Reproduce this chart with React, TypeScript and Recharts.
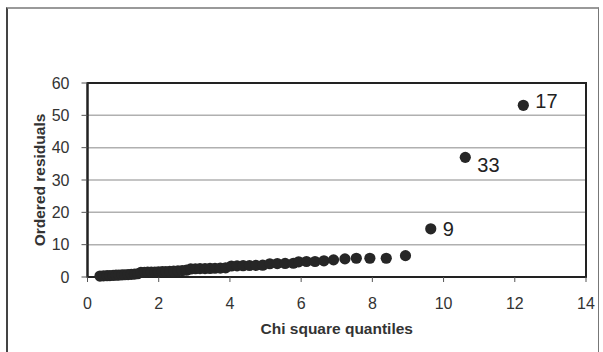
import React from 'react';
import {
  ScatterChart, Scatter, XAxis, YAxis, CartesianGrid, ReferenceArea, LabelList, Label,
} from 'recharts';

const chiQuantiles = [
  0.35, 0.45, 0.55, 0.63, 0.72, 0.80, 0.88, 0.97, 1.05, 1.14, 1.23, 1.32, 1.41,
  1.50, 1.60, 1.69, 1.79, 1.89, 1.99, 2.10, 2.20, 2.31, 2.42, 2.54, 2.66, 2.78,
  2.90, 3.03, 3.16, 3.30, 3.44, 3.58, 3.73, 3.88,
  4.04, 4.20, 4.37, 4.55, 4.73, 4.92,
  5.12, 5.33, 5.55, 5.78,
  5.93, 6.15, 6.39, 6.64, 6.91, 7.23, 7.55, 7.93, 8.39, 8.93, 9.64, 10.61, 12.24,
];

const orderedResiduals = [
  0.3, 0.35, 0.4, 0.45, 0.5, 0.55, 0.6, 0.65, 0.7, 0.75, 0.8, 0.9, 1.0,
  1.4, 1.45, 1.5, 1.5, 1.55, 1.6, 1.65, 1.7, 1.75, 1.8, 1.9, 2.0, 2.1,
  2.5, 2.55, 2.6, 2.6, 2.65, 2.7, 2.75, 2.85,
  3.4, 3.45, 3.5, 3.55, 3.6, 3.65,
  4.1, 4.15, 4.2, 4.25,
  4.7, 4.8, 4.8, 5.0, 5.3, 5.6, 5.8, 5.8, 5.8, 6.6, 14.9, 37.0, 53.1,
];

const pointLabels: Record<number, string> = { 54: '9', 55: '33', 56: '17' };

const xTicks = [0, 2, 4, 6, 8, 10, 12, 14];
const yTicks = [0, 10, 20, 30, 40, 50, 60];

const data = chiQuantiles.map((x, i) => ({ x, y: orderedResiduals[i], label: pointLabels[i] ?? '' }));

const labelOffsets: Record<string, number> = { '9': 0, '33': 8, '17': -4 };

const PointLabel = (props: any) => {
  const { x, y, width, height, value } = props;
  if (!value) return null;
  const cx = x + (width ?? 0) / 2;
  const cy = y + (height ?? 0) / 2;
  return (
    <text x={cx + 12} y={cy + labelOffsets[value]} dominantBaseline="central" fontSize={20} fill="#222"
      fontFamily="'Liberation Sans', Arial, sans-serif">{value}</text>
  );
};

const Dot = (props: any) => <circle cx={props.cx} cy={props.cy} r={5.6} fill="#262626" />;

export default function App() {
  return (
    <div style={{ position: 'absolute', left: 0, top: 0, width: 603, height: 352, background: '#fff', overflow: 'hidden' }}>
      <div style={{ position: 'absolute', left: 6, top: 7, width: 590, height: 360, borderLeft: '2px solid #444', borderTop: '2px solid #999', borderRight: '1px solid #777' }} />
      <ScatterChart width={603} height={352} margin={{ top: 83, right: 17, bottom: 0, left: 0 }}
        style={{ fontFamily: "'Liberation Sans', Arial, sans-serif" }}>
        <CartesianGrid horizontal vertical={false} stroke="#b0b0b0" strokeWidth={1.5} />
        <XAxis type="number" dataKey="x" domain={[0, 14]} ticks={xTicks} height={75}
          axisLine={{ stroke: '#222', strokeWidth: 2 }} tickLine={{ stroke: '#555' }} tickSize={5} tickMargin={16}
          tick={{ fontSize: 16, fill: '#333' }}>
          <Label value="Chi square quantiles" position="insideBottom" offset={18}
            style={{ fontSize: 15.5, fontWeight: 'bold', fill: '#333' }} />
        </XAxis>
        <YAxis type="number" dataKey="y" domain={[0, 60]} ticks={yTicks} width={87.5}
          axisLine={{ stroke: '#222', strokeWidth: 2 }} tickLine={{ stroke: '#555' }} tickSize={6} tickMargin={12}
          tick={{ fontSize: 16, fill: '#333' }}>
          <Label value="Ordered residuals" angle={-90} position="center" dx={-4}
            style={{ fontSize: 15.5, fontWeight: 'bold', fill: '#333', textAnchor: 'middle' }} />
        </YAxis>
        <ReferenceArea x1={0} x2={14} y1={0} y2={60} fill="none" stroke="#222" strokeWidth={2} ifOverflow="visible" />
        <Scatter data={data} shape={Dot} isAnimationActive={false}>
          <LabelList dataKey="label" content={PointLabel} />
        </Scatter>
      </ScatterChart>
    </div>
  );
}
